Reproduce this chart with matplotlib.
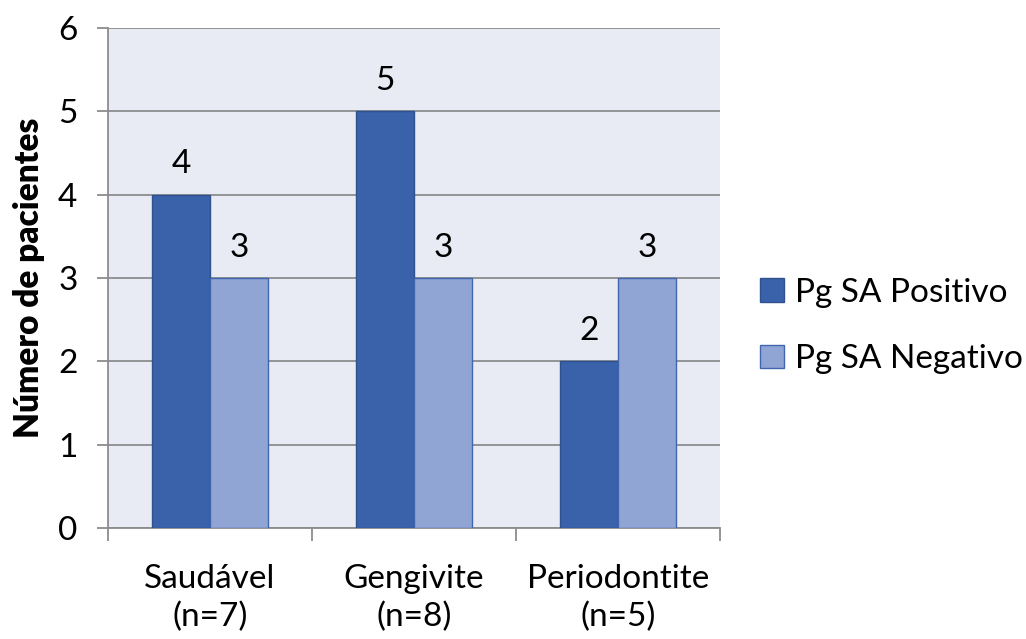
import matplotlib.pyplot as plt
import numpy as np

# patient counts per group
grupos = ['Saudável\n(n=7)', 'Gengivite\n(n=8)', 'Periodontite\n(n=5)']
positivo = [4, 5, 2]
negativo = [3, 3, 3]
series = ['Pg SA Positivo', 'Pg SA Negativo']

plt.rcParams['font.family'] = ['Lato', 'DejaVu Sans']
fs = 24

fig = plt.figure(figsize=(10.26, 6.39), dpi=100)
ax = fig.add_axes([0.1053, 0.1737, 0.5965, 0.7825])
ax.set_facecolor('#E8EAF4')

x = np.arange(len(grupos))
width = 0.284
b1 = ax.bar(x - width / 2, positivo, width, color='#3A62AA', edgecolor='#2F528F',
            linewidth=1, label=series[0], zorder=3)
b2 = ax.bar(x + width / 2, negativo, width, color='#91A5D5', edgecolor='#4066B0',
            linewidth=1, label=series[1], zorder=3)

for bars in (b1, b2):
    for r in bars:
        ax.annotate('%d' % r.get_height(), (r.get_x() + r.get_width() / 2, r.get_height()),
                    xytext=(0, 11), textcoords='offset points', ha='center', va='bottom',
                    fontsize=fs)

ax.set_ylim(0, 6)
ax.set_xlim(-0.5, 2.5)
ax.set_yticks(range(7))
ax.grid(axis='y', color='#8C8C8C', linewidth=1.3, zorder=1)
ax.tick_params(axis='y', length=8, width=1.3, color='#8C8C8C', labelsize=fs, pad=14)

ax.set_xticks(x)
ax.set_xticklabels(grupos, linespacing=1.3)
ax.set_xticks(np.arange(-0.5, 3, 1), minor=True)
ax.tick_params(axis='x', which='major', length=0, labelsize=fs, pad=26)
ax.tick_params(axis='x', which='minor', length=9, width=1.3, color='#8C8C8C')

for s in ['top', 'right']:
    ax.spines[s].set_visible(False)
ax.spines['left'].set_color('#8C8C8C')
ax.spines['left'].set_linewidth(1.3)
ax.spines['bottom'].set_color('#8C8C8C')
ax.spines['bottom'].set_linewidth(1.3)

ax.set_ylabel('Número de pacientes', fontsize=24, fontweight='heavy', labelpad=9)

ax.legend(loc='center left', bbox_to_anchor=(0.741, 0.49), bbox_transform=fig.transFigure,
          frameon=False, fontsize=fs, borderpad=0, borderaxespad=0,
          handlelength=0.7, handleheight=0.7, handletextpad=0.35, labelspacing=1.1)

fig.savefig('out.png', dpi=100)
